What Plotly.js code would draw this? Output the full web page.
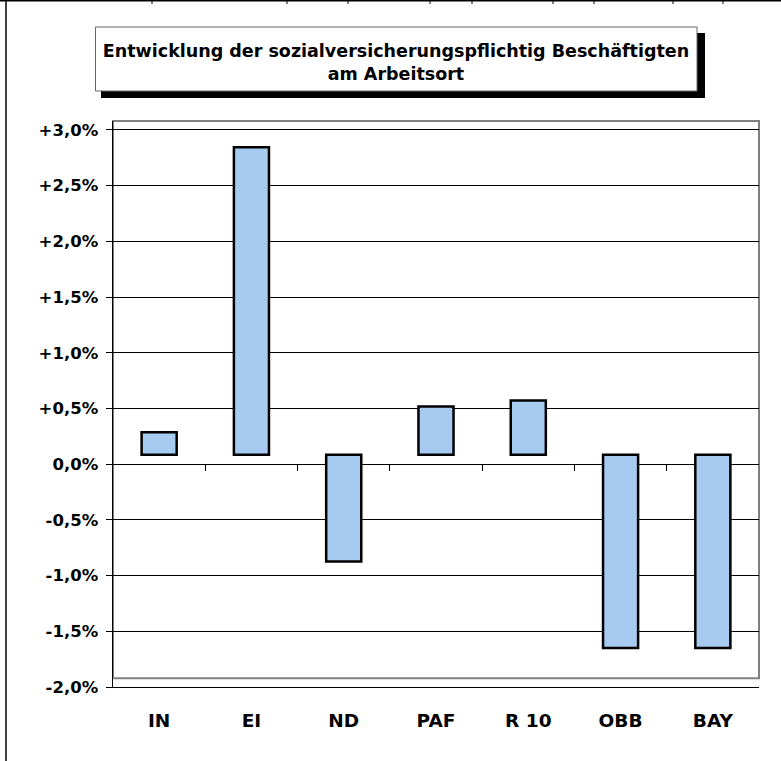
<!DOCTYPE html>
<html>
<head>
<meta charset="utf-8">
<script src="https://cdn.plot.ly/plotly-3.0.1.min.js"></script>
<style>html,body{margin:0;padding:0;background:#fff;}</style>
</head>
<body>
<div id="chart" style="width:781px;height:761px;"></div>
<script>
// ---- data ----
const categories = ["IN", "EI", "ND", "PAF", "R 10", "OBB", "BAY"];
const values = [0.287, 2.844, -0.874, 0.517, 0.571, -1.651, -1.651]; // percent
const barBase = 0.084; // bars in the original start slightly above the 0 line
const yTickVals = [3.0, 2.5, 2.0, 1.5, 1.0, 0.5, 0.0, -0.5, -1.0, -1.5, -2.0];
const yTickText = ["+3,0%", "+2,5%", "+2,0%", "+1,5%", "+1,0%", "+0,5%", "0,0%", "-0,5%", "-1,0%", "-1,5%", "-2,0%"];
const titleText = "Entwicklung der sozialversicherungspflichtig Beschäftigten<br>am Arbeitsort";

// ---- layout geometry ----
const W = 781, H = 761;
const M = {l: 113, r: 22, t: 121, b: 74};
const PW = W - M.l - M.r, PH = H - M.t - M.b;
const yRange = [-2.0, 3.08];
const px = x => (x - M.l) / PW;             // pixel -> paper x
const py = y => (H - M.b - y) / PH;         // pixel -> paper y

const font = "DejaVu Sans, Arial, sans-serif";

const bars = {
  type: "bar",
  x: categories,
  y: values.map(v => v - barBase),
  base: values.map(() => barBase),
  marker: {color: "#A6CAF0", line: {color: "#000", width: 2.5}},
  hoverinfo: "skip"
};
const dummy = {type: "scatter", x: [], y: [], xaxis: "x2", yaxis: "y", showlegend: false, hoverinfo: "skip"};

const boundaryTicks = categories.slice(1).map((c, i) => i + 0.5);

const shapes = [
  // plot area gray border
  {type: "rect", xref: "paper", yref: "paper", x0: 0, x1: 1, y0: py(678.3), y1: 1,
   line: {color: "#808080", width: 2}, layer: "below"},
  // title shadow
  {type: "rect", xref: "paper", yref: "paper", x0: px(101), x1: px(705), y0: py(98), y1: py(33),
   fillcolor: "#000", line: {width: 0}},
  // title box
  {type: "rect", xref: "paper", yref: "paper", x0: px(95.5), x1: px(697), y0: py(91), y1: py(27),
   fillcolor: "#fff", line: {color: "#666", width: 1}},
  // outer frame left and top
  {type: "line", xref: "paper", yref: "paper", x0: px(6), x1: px(6), y0: py(761), y1: py(1),
   line: {color: "#000", width: 1.5}},
  {type: "line", xref: "paper", yref: "paper", x0: px(0), x1: px(781), y0: py(0.8), y1: py(0.8),
   line: {color: "#000", width: 1.5}}
];
[152, 287, 348, 430, 472, 553, 594, 673, 723].forEach(x => {
  shapes.push({type: "line", xref: "paper", yref: "paper", x0: px(x), x1: px(x), y0: py(0), y1: py(4),
    line: {color: "#000", width: 1}});
});

const layout = {
  width: W, height: H,
  margin: M,
  paper_bgcolor: "#fff", plot_bgcolor: "#fff",
  showlegend: false,
  bargap: 0.62,
  title: {
    text: titleText,
    font: {family: font, size: 17.5, color: "#000", weight: "bold"},
    x: 396 / W, xref: "container", xanchor: "center",
    y: 1 - 57 / H, yref: "container", yanchor: "middle"
  },
  xaxis: {
    type: "category",
    showline: true, linecolor: "#000", linewidth: 1,
    ticks: "", showgrid: false, zeroline: false,
    ticklabelstandoff: 17,
    tickfont: {family: font, size: 18.5, color: "#000", weight: "bold"}
  },
  xaxis2: {
    overlaying: "x", anchor: "free",
    position: (0 - yRange[0]) / (yRange[1] - yRange[0]),
    range: [-0.5, categories.length - 0.5],
    tickmode: "array", tickvals: boundaryTicks,
    ticks: "outside", ticklen: 6, tickcolor: "#000", tickwidth: 1,
    showticklabels: false, showline: false, showgrid: false, zeroline: false
  },
  yaxis: {
    range: yRange,
    tickmode: "array", tickvals: yTickVals, ticktext: yTickText,
    ticks: "outside", ticklen: 6, tickcolor: "#000", tickwidth: 1,
    showline: true, linecolor: "#000", linewidth: 1.5,
    showgrid: true, gridcolor: "#000", gridwidth: 1,
    zeroline: true, zerolinecolor: "#000", zerolinewidth: 1,
    ticklabelstandoff: 4,
    tickfont: {family: font, size: 16.5, color: "#000", weight: "bold"}
  },
  shapes: shapes
};

Plotly.newPlot("chart", [bars, dummy], layout, {displayModeBar: false, staticPlot: true});
</script>
</body>
</html>
